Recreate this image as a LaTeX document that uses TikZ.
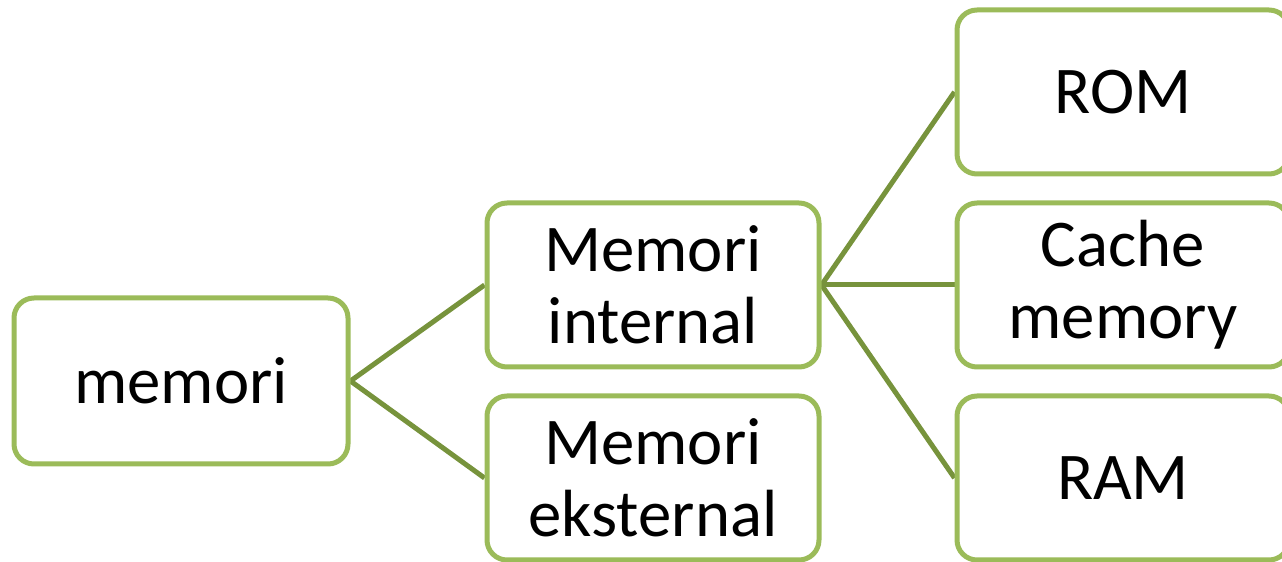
\documentclass[tikz,border=0pt]{standalone}
\usepackage{xcolor}
\usepackage{fontspec}
\setmainfont{Carlito}
\usepackage{tikz}
\usetikzlibrary{backgrounds,fit,shapes}

\definecolor{boxgreen}{HTML}{9BBB59}
\definecolor{linegreen}{HTML}{77933C}

\begin{document}
\begin{tikzpicture}[join=bevel,scale=0.5]
 \tikzstyle{memblock}=[draw=boxgreen,line width=2.5bp,rounded corners=10bp,fill=white,
   minimum width=166bp,minimum height=82bp,align=center,inner sep=0pt,
   font=\fontsize{33.5}{36}\selectfont]
 \tikzstyle{branch}=[draw=linegreen,line width=2.5bp]
 \useasboundingbox (0bp,0bp) rectangle (1282bp,562bp);

 \node (memori) at (181bp,181bp) [memblock, minimum width=167bp, minimum height=83bp] {memori};
 \node (internal) at (653bp,277bp) [memblock] {Memori\\internal};
 \node (eksternal) at (653bp,84bp) [memblock] {Memori\\eksternal};

 \node (rom) at (1123bp,470bp) [memblock] {ROM};
 \node (cache) at (1123bp,277bp) [memblock] {Cache\\memory};
 \node (ram) at (1123bp,84bp) [memblock] {RAM}; %right column cut by the page edge

 \begin{scope}[on background layer]
 \draw [branch] (memori.east) -- (internal.west);
 \draw [branch] (memori.east) -- (eksternal.west);
 \draw [branch] (internal.east) -- (rom.west);
 \draw [branch] (internal.east) -- (cache.west);
 \draw [branch] (internal.east) -- (ram.west);
 \end{scope}
\end{tikzpicture}
\end{document}
